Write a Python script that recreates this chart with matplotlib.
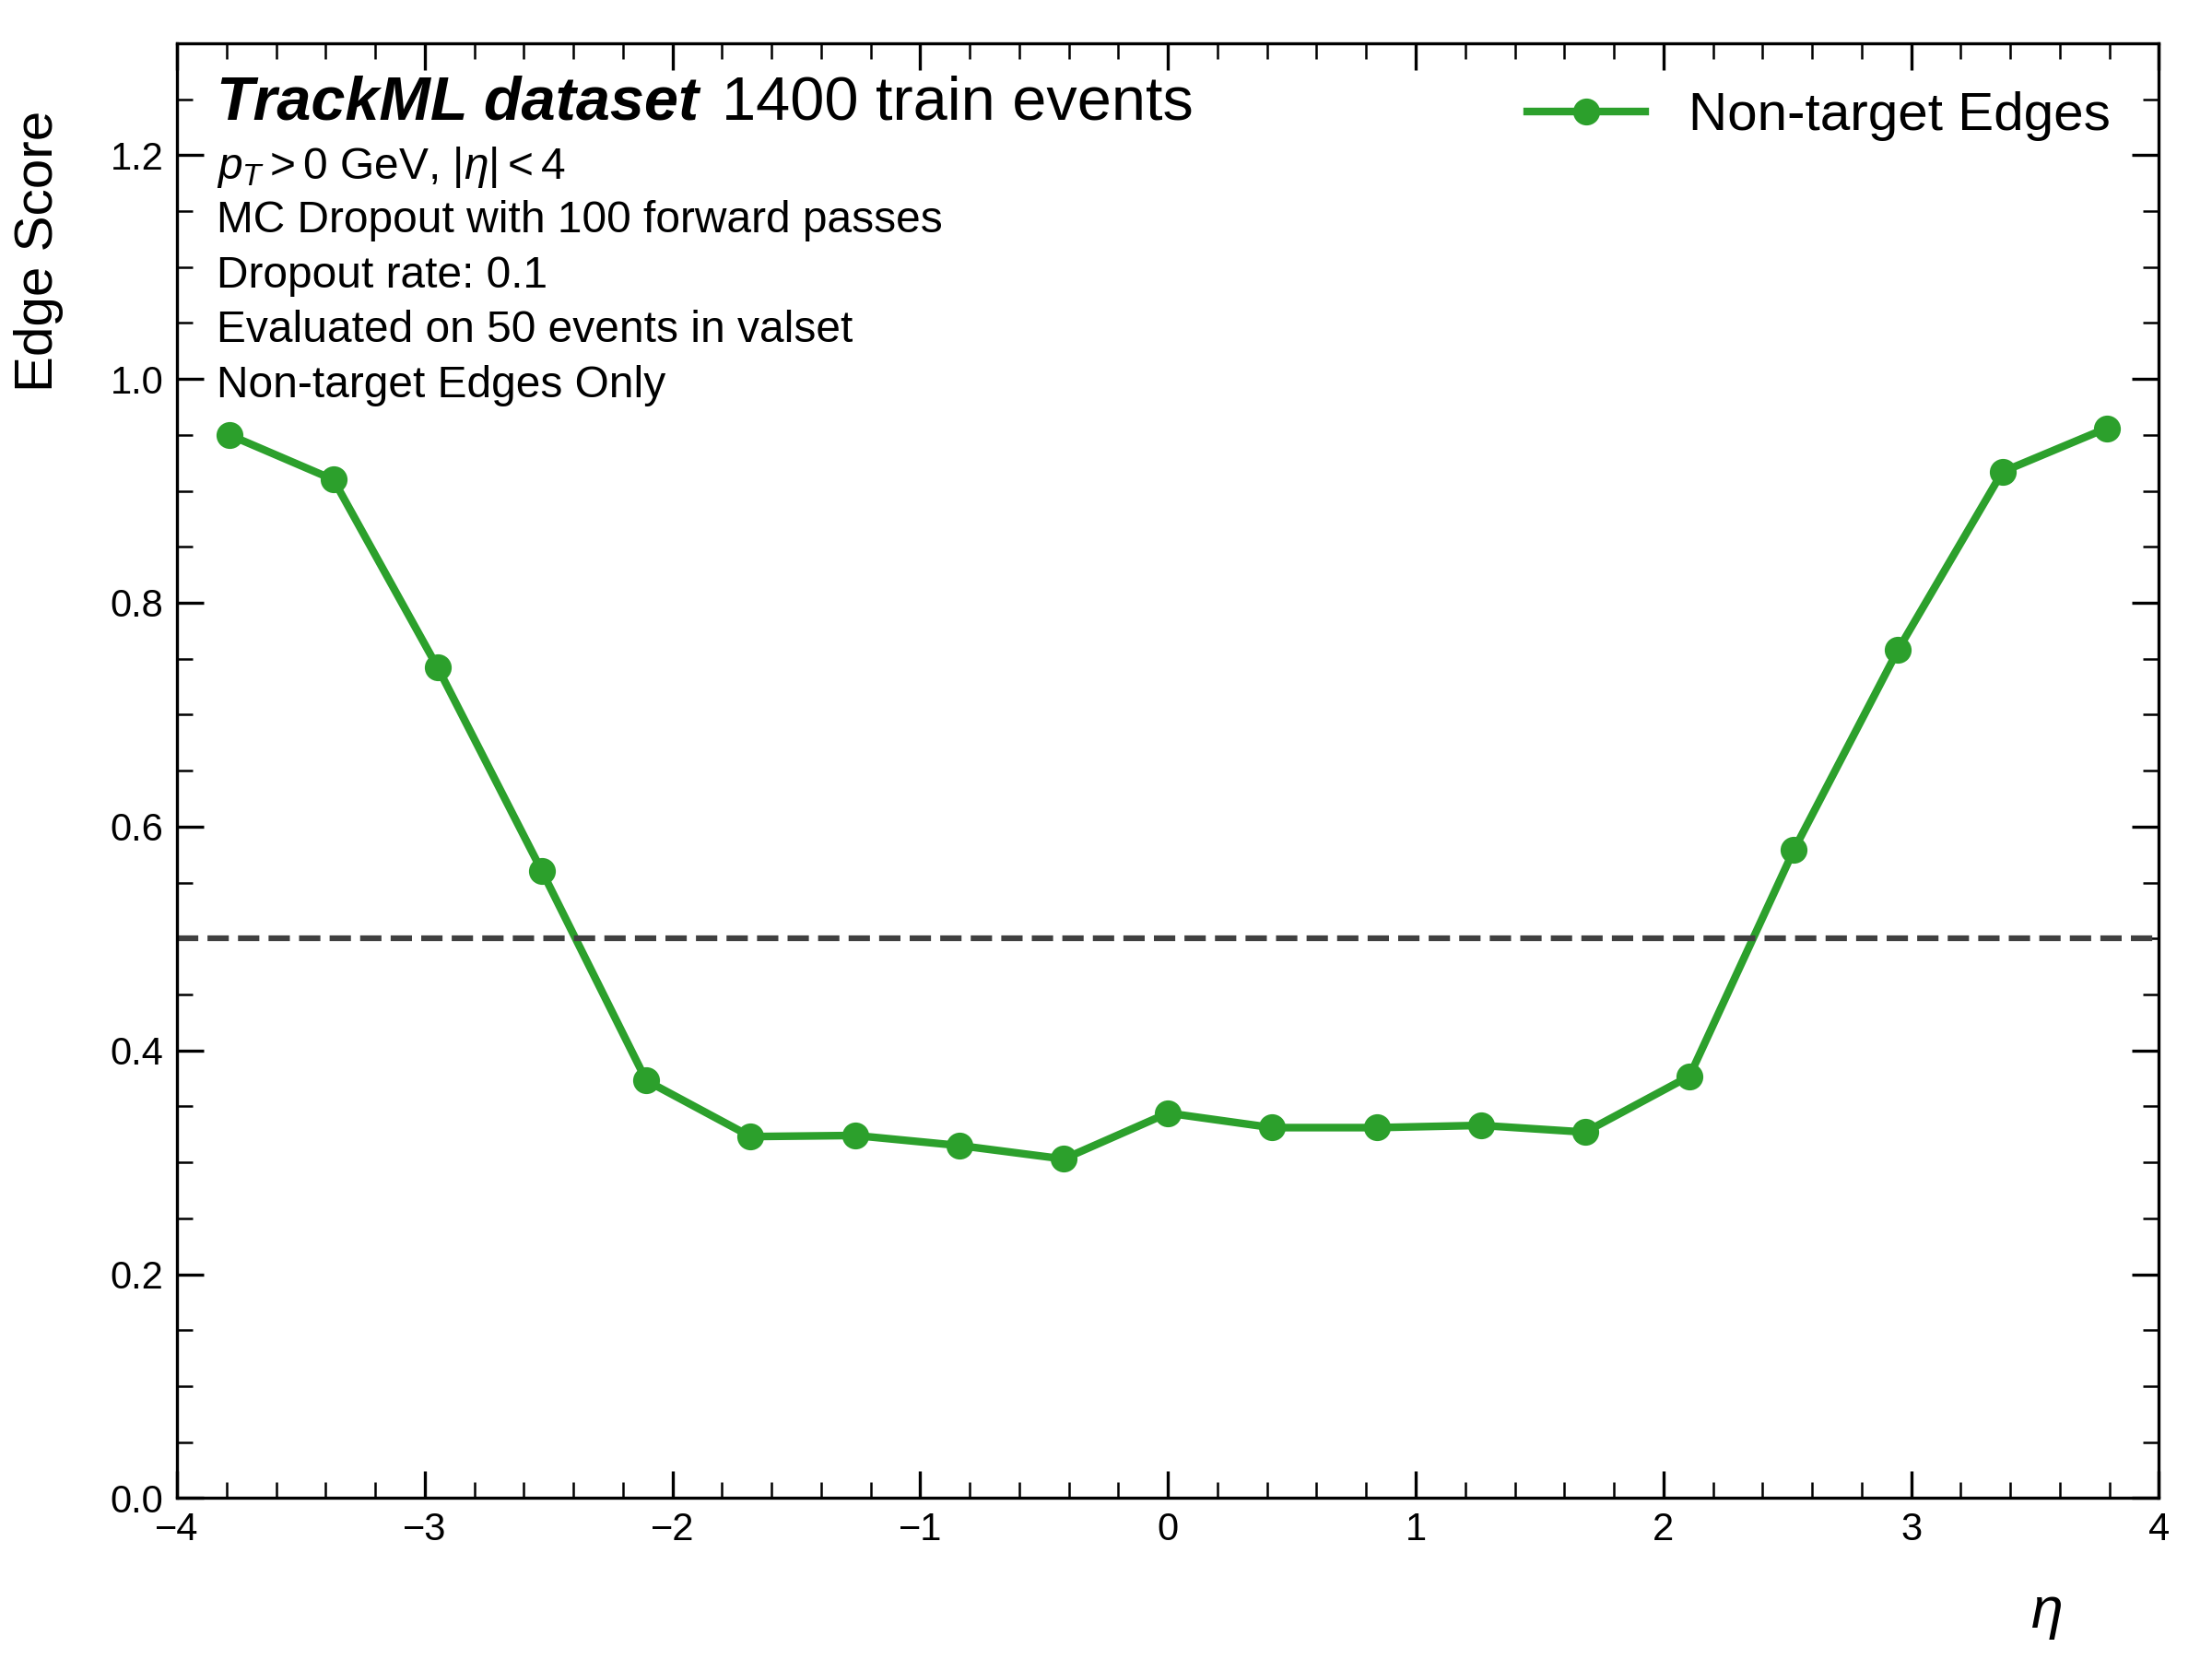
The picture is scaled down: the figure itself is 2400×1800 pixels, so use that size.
import numpy as np
import matplotlib
matplotlib.use('Agg')
from matplotlib import pyplot, ticker

pyplot.rcParams['font.family'] = ['Liberation Sans', 'DejaVu Sans']
pyplot.rcParams['mathtext.fontset'] = 'custom'
pyplot.rcParams['mathtext.it'] = 'Liberation Sans:italic'
pyplot.rcParams['mathtext.rm'] = 'Liberation Sans'

eta_edges = np.linspace(-4, 4, 20)
eta_centers = (eta_edges[:-1] + eta_edges[1:]) / 2
scores = [0.950, 0.910, 0.742, 0.560, 0.373, 0.323, 0.324, 0.315, 0.303, 0.344,
          0.331, 0.331, 0.333, 0.327, 0.377, 0.579, 0.758, 0.917, 0.956]
info_lines = ['$p_T > 0$ GeV, $|\\eta| < 4$', 'MC Dropout with 100 forward passes',
              'Dropout rate: 0.1', 'Evaluated on 50 events in valset', 'Non-target Edges Only']

fig = pyplot.figure(figsize=(8, 6), dpi=300)
ax = fig.add_axes([0.080, 0.097, 0.896, 0.877])
ax.plot(eta_centers, scores, color='#2ca02c', marker='o', markersize=6, linewidth=2, label='Non-target Edges')
ax.axhline(0.5, color='#404040', linestyle='--', linewidth=1.5)

ax.set_xlim(-4, 4)
ax.set_ylim(0, 1.3)
ax.yaxis.set_major_locator(ticker.MultipleLocator(0.2))
ax.yaxis.set_minor_locator(ticker.MultipleLocator(0.05))
ax.xaxis.set_major_locator(ticker.MultipleLocator(1))
ax.xaxis.set_minor_locator(ticker.MultipleLocator(0.2))
ax.tick_params(which='both', direction='in', top=True, right=True, labelsize=10)
ax.tick_params(which='major', length=7)
ax.tick_params(which='minor', length=4)
ax.set_ylabel('Edge Score', fontsize=14)
ax.yaxis.set_label_coords(-0.057, 0.857)
ax.set_xlabel('$\\eta$', fontsize=15)
ax.xaxis.set_label_coords(0.943, -0.061)

ax.text(0.02, 0.978, 'TrackML dataset', transform=ax.transAxes, fontsize=16,
        fontweight='bold', fontstyle='italic', va='top')
ax.text(0.275, 0.978, '1400 train events', transform=ax.transAxes, fontsize=16, va='top')
for i, line in enumerate(info_lines):
    ax.text(0.02, 0.930 - i * 0.0378, line, transform=ax.transAxes, fontsize=11.5, va='top')

ax.legend(loc='upper right', frameon=False, fontsize=14, handlelength=2.2)
fig.savefig('out.png', dpi=300)
